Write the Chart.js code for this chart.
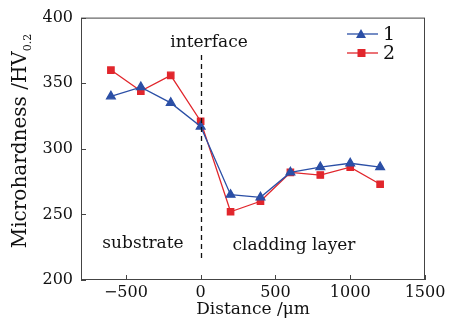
<!DOCTYPE html>
<html>
<head>
<meta charset="utf-8">
<script src="https://cdn.jsdelivr.net/npm/chart.js@4"></script>
<style>
  html, body { margin: 0; padding: 0; background: #fff; }
  #wrap { width: 460px; height: 323px; }
</style>
</head>
<body>
<div id="wrap"><canvas id="myChart"></canvas></div>
<script>
const distancias = [-600, -400, -200, 0, 200, 400, 600, 800, 1000, 1200];
const serie1 = [340, 347, 335, 317, 265, 263, 282, 286, 289, 286];
const serie2 = [360, 344, 356, 321, 252, 260, 282, 280, 286, 273];
const ticksX = [-500, 0, 500, 1000, 1500];
const ticksY = [200, 250, 300, 350, 400];

const azul = '#2b4fa6';
const rojo = '#e1262c';
const fuente = '"DejaVu Serif", "Liberation Serif", serif';

function puntos(valores) {
    return distancias.map((d, i) => ({ x: d, y: valores[i] }));
}

// ejes con ticks hacia dentro, marco, textos y leyenda
const extras = {
    id: 'extras',
    afterDraw(chart) {
        const c = chart.ctx;
        const a = chart.chartArea;
        const sx = chart.scales.x;
        const sy = chart.scales.y;
        c.save();
        c.strokeStyle = '#444';
        c.lineWidth = 1;
        c.strokeRect(a.left + 0.5, a.top + 0.5, a.right - a.left - 1, a.bottom - a.top - 1);
        c.beginPath();
        ticksX.forEach(v => {
            const px = Math.round(sx.getPixelForValue(v)) + 0.5;
            c.moveTo(px, a.bottom);
            c.lineTo(px, a.bottom - 5);
        });
        ticksY.forEach(v => {
            const py = Math.round(sy.getPixelForValue(v)) + 0.5;
            c.moveTo(a.left, py);
            c.lineTo(a.left + 5, py);
        });
        c.stroke();

        // linea de interfaz
        const x0 = Math.round(sx.getPixelForValue(0)) + 0.5;
        c.strokeStyle = '#111';
        c.lineWidth = 1.3;
        c.setLineDash([5, 4]);
        c.beginPath();
        c.moveTo(x0, 55);
        c.lineTo(x0, 260);
        c.stroke();
        c.setLineDash([]);

        c.fillStyle = '#111';
        c.font = '17px ' + fuente;
        c.textAlign = 'center';
        c.textBaseline = 'middle';
        c.fillText('interface', 209, 43);
        c.fillText('substrate', 143, 244);
        c.fillText('cladding layer', 294, 246);

        // titulo eje y con subindice
        c.save();
        c.translate(21, 141);
        c.rotate(-Math.PI / 2);
        c.font = '20px ' + fuente;
        const t = 'Microhardness /HV';
        const w1 = c.measureText(t).width;
        c.font = '11px ' + fuente;
        const w2 = c.measureText('0.2').width;
        let x = -(w1 + w2) / 2;
        c.textAlign = 'left';
        c.font = '20px ' + fuente;
        c.fillText(t, x, 0);
        c.font = '11px ' + fuente;
        c.fillText('0.2', x + w1, 7);
        c.restore();

        // leyenda
        const items = [
            { txt: '1', color: azul, y: 34, forma: 'tri' },
            { txt: '2', color: rojo, y: 53, forma: 'cua' }
        ];
        items.forEach(it => {
            c.strokeStyle = it.color;
            c.fillStyle = it.color;
            c.lineWidth = 1.3;
            c.beginPath();
            c.moveTo(347, it.y);
            c.lineTo(378, it.y);
            c.stroke();
            c.beginPath();
            if (it.forma === 'tri') {
                c.moveTo(361, it.y - 5);
                c.lineTo(366, it.y + 4);
                c.lineTo(356, it.y + 4);
                c.closePath();
            } else {
                c.rect(357.5, it.y - 4, 8, 8);
            }
            c.fill();
            c.fillStyle = '#111';
            c.font = '19px ' + fuente;
            c.textAlign = 'left';
            c.fillText(it.txt, 383, it.y + 1);
        });
        c.restore();
    }
};

const ctx = document.getElementById('myChart');
const mychart = new Chart(ctx, {
    type: 'scatter',
    data: {
        datasets: [{
            label: '1',
            data: puntos(serie1),
            showLine: true,
            borderColor: azul,
            backgroundColor: azul,
            borderWidth: 1.3,
            pointStyle: 'triangle',
            pointRadius: 5,
            pointHoverRadius: 5
        }, {
            label: '2',
            data: puntos(serie2),
            showLine: true,
            borderColor: rojo,
            backgroundColor: rojo,
            borderWidth: 1.3,
            pointStyle: 'rect',
            pointRadius: 4.5,
            pointHoverRadius: 4.5
        }]
    },
    options: {
        responsive: true,
        maintainAspectRatio: false,
        animation: false,
        layout: { padding: { top: 16, right: 35, left: 0, bottom: 0 } },
        plugins: {
            legend: { display: false },
            tooltip: { enabled: false }
        },
        scales: {
            x: {
                type: 'linear',
                min: -800,
                max: 1500,
                afterBuildTicks: s => { s.ticks = ticksX.map(v => ({ value: v })); },
                afterFit: s => { s.height = 43; },
                grid: { display: false, drawTicks: false },
                border: { display: false },
                ticks: {
                    color: '#111',
                    padding: 3,
                    maxRotation: 0,
                    font: { family: fuente, size: 16 },
                    callback: v => v < 0 ? '\u2212' + Math.abs(v) : v
                },
                title: {
                    display: true,
                    text: 'Distance /\u03bcm',
                    color: '#111',
                    padding: { top: 0, bottom: 3 },
                    font: { family: fuente, size: 17 }
                }
            },
            y: {
                min: 200,
                max: 400,
                afterBuildTicks: s => { s.ticks = ticksY.map(v => ({ value: v })); },
                afterFit: s => { s.width = 81; },
                grid: { display: false, drawTicks: false },
                border: { display: false },
                ticks: {
                    color: '#111',
                    padding: 8,
                    font: { family: fuente, size: 16 }
                }
            }
        }
    },
    plugins: [extras]
});
</script>
</body>
</html>
